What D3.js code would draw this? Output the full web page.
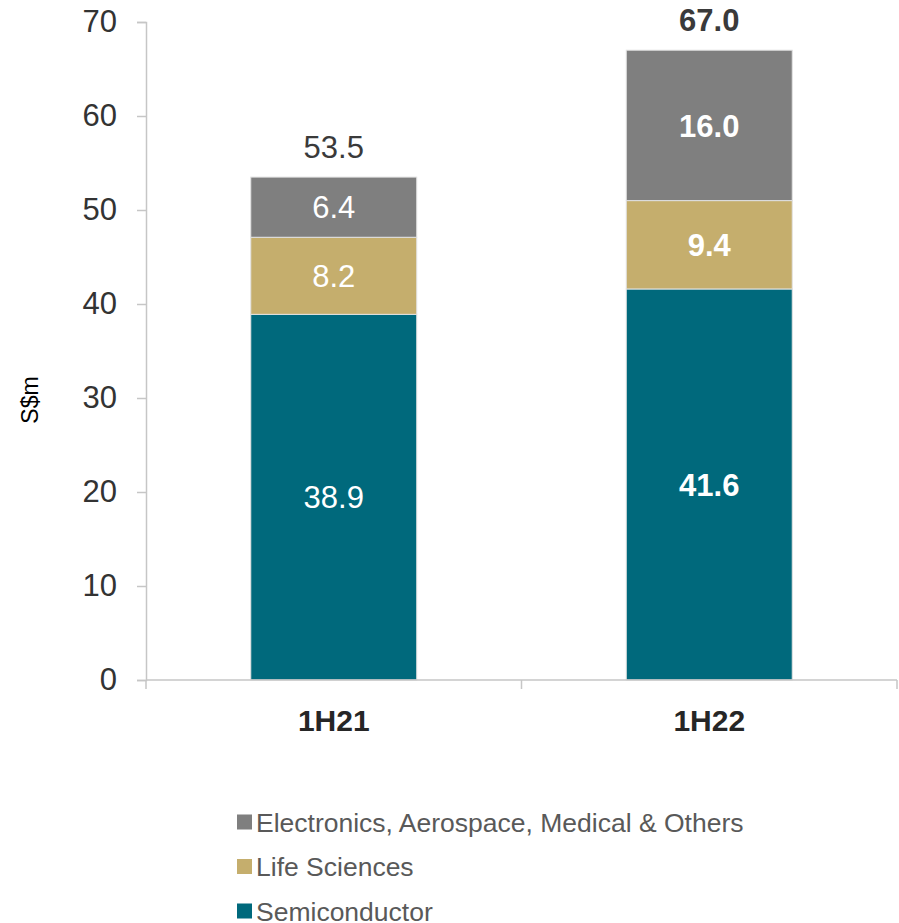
<!DOCTYPE html>
<html>
<head>
<meta charset="utf-8">
<script src="https://cdn.jsdelivr.net/npm/d3@7"></script>
<style>
  body { margin: 0; background: #fff; }
  svg text { font-family: "Liberation Sans", Arial, sans-serif; }
</style>
</head>
<body>
<div id="chart"></div>
<script>
const categories = ['1H21', '1H22'];
const seriesNames = ['Semiconductor', 'Life Sciences', 'Electronics, Aerospace, Medical & Others'];
const semiconductor = [38.9, 41.6];
const lifeSciences = [8.2, 9.4];
const electronics = [6.4, 16.0];
const totals = [53.5, 67.0];
const yTicks = [0, 10, 20, 30, 40, 50, 60, 70];
const colors = ['#00697c', '#c5ae6d', '#7f7f7f'];
const boldLabels = [false, true];

const width = 899, height = 923;
const svg = d3.select('#chart').append('svg')
  .attr('width', width)
  .attr('height', height);

const x = d3.scaleBand()
  .domain(categories)
  .range([146, 897])
  .paddingInner(0.558)
  .paddingOuter(0.279);

const y = d3.scaleLinear()
  .domain([0, 70])
  .range([680, 22]);

const rows = categories.map((c, i) => ({
  cat: c,
  Semiconductor: semiconductor[i],
  'Life Sciences': lifeSciences[i],
  'Electronics, Aerospace, Medical & Others': electronics[i]
}));
const stacked = d3.stack().keys(seriesNames)(rows);

// y axis
const yAxis = svg.append('g')
  .attr('transform', 'translate(146,0)')
  .call(d3.axisLeft(y).tickValues(yTicks).tickSize(9).tickPadding(20));
yAxis.select('.domain').attr('stroke', '#c6c6c6').attr('stroke-width', 1.5);
yAxis.selectAll('.tick line').attr('stroke', '#c6c6c6').attr('stroke-width', 1.5);
yAxis.selectAll('.tick text')
  .attr('font-size', 31)
  .attr('fill', '#333')
  .style('font-family', '"Liberation Sans", Arial, sans-serif');

// bars
const groups = svg.append('g').selectAll('g')
  .data(stacked)
  .enter().append('g')
  .attr('fill', (d, i) => colors[i]);

groups.selectAll('rect')
  .data(d => d)
  .enter().append('rect')
  .attr('x', d => x(d.data.cat))
  .attr('y', d => y(d[1]))
  .attr('width', x.bandwidth())
  .attr('height', d => y(d[0]) - y(d[1]))
  .attr('stroke', '#e2e2e2')
  .attr('stroke-width', 1);

// segment labels
groups.selectAll('text')
  .data(d => d.map((v, i) => ({ v, i })))
  .enter().append('text')
  .attr('x', d => x(d.v.data.cat) + x.bandwidth() / 2)
  .attr('y', d => y((d.v[0] + d.v[1]) / 2))
  .attr('dy', '0.36em')
  .attr('text-anchor', 'middle')
  .attr('font-size', 31)
  .attr('font-weight', d => boldLabels[d.i] ? 'bold' : 'normal')
  .attr('fill', '#fff')
  .text(d => (d.v[1] - d.v[0]).toFixed(1));

// totals
svg.append('g').selectAll('text')
  .data(categories)
  .enter().append('text')
  .attr('x', d => x(d) + x.bandwidth() / 2)
  .attr('y', (d, i) => y(totals[i]) - 30)
  .attr('dy', '0.36em')
  .attr('text-anchor', 'middle')
  .attr('font-size', 31)
  .attr('font-weight', (d, i) => boldLabels[i] ? 'bold' : 'normal')
  .attr('fill', '#3a3a3a')
  .text((d, i) => totals[i].toFixed(1));

// x axis
const xg = svg.append('g');
xg.append('line')
  .attr('x1', 146).attr('x2', 897)
  .attr('y1', y(0)).attr('y2', y(0))
  .attr('stroke', '#c6c6c6').attr('stroke-width', 1.5);
const step = x.step();
const bounds = d3.range(categories.length + 1).map(i => x(categories[0]) - x.paddingOuter() * step + i * step);
xg.selectAll('.xt')
  .data(bounds)
  .enter().append('line')
  .attr('x1', d => d).attr('x2', d => d)
  .attr('y1', y(0)).attr('y2', y(0) + 9)
  .attr('stroke', '#c6c6c6').attr('stroke-width', 1.5);
xg.selectAll('.xl')
  .data(categories)
  .enter().append('text')
  .attr('x', d => x(d) + x.bandwidth() / 2)
  .attr('y', 720)
  .attr('dy', '0.36em')
  .attr('text-anchor', 'middle')
  .attr('font-size', 30)
  .attr('font-weight', 'bold')
  .attr('fill', '#262626')
  .text(d => d);

// y axis title
svg.append('text')
  .attr('transform', 'translate(30,400) rotate(-90)')
  .attr('dy', '0.36em')
  .attr('text-anchor', 'middle')
  .attr('font-size', 23)
  .attr('fill', '#000')
  .text('S$m');

// legend (reverse order: top is Electronics)
const legendItems = seriesNames.map((n, i) => ({ n, c: colors[i] })).reverse();
const legend = svg.append('g').selectAll('g')
  .data(legendItems)
  .enter().append('g')
  .attr('transform', (d, i) => `translate(237,${822 + i * 44.5})`);
legend.append('rect')
  .attr('x', 0).attr('y', -7.5)
  .attr('width', 15).attr('height', 15)
  .attr('fill', d => d.c);
legend.append('text')
  .attr('x', 19)
  .attr('dy', '0.36em')
  .attr('font-size', 26.5)
  .attr('fill', '#595959')
  .text(d => d.n);
</script>
</body>
</html>
